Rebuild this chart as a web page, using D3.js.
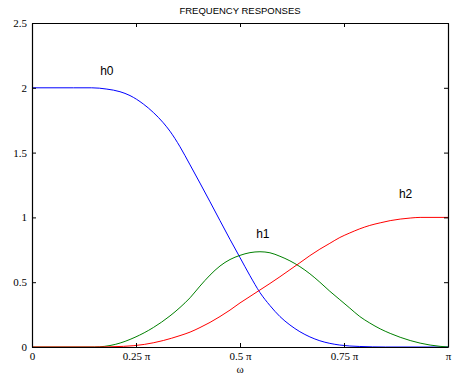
<!DOCTYPE html>
<html>
<head>
<meta charset="utf-8">
<script src="https://cdn.jsdelivr.net/npm/d3@7"></script>
<style>
  body { margin: 0; background: #fff; }
  svg { display: block; }
</style>
</head>
<body>
<svg id="chart" width="452" height="375"></svg>
<script>
// frequency in units of pi
var h0W = [0, 0.10, 0.1435, 0.18, 0.2115, 0.2356, 0.2676, 0.2916, 0.3156, 0.3317, 0.3558, 0.38, 0.4038, 0.428, 0.4519, 0.476, 0.5, 0.524, 0.548, 0.572, 0.596, 0.62, 0.644, 0.668, 0.692, 0.716, 0.74, 0.788, 0.85, 1];
var h0V = [2, 2, 2.0, 1.99, 1.97, 1.94, 1.875, 1.81, 1.73, 1.665, 1.545, 1.405, 1.265, 1.12, 0.975, 0.83, 0.69, 0.55, 0.42, 0.32, 0.235, 0.17, 0.118, 0.078, 0.048, 0.028, 0.015, 0.004, 0, 0];

var h1W = [0, 0.15, 0.2, 0.2476, 0.2916, 0.3317, 0.3558, 0.38, 0.4038, 0.428, 0.4519, 0.476, 0.5, 0.524, 0.548, 0.572, 0.596, 0.62, 0.644, 0.668, 0.692, 0.716, 0.74, 0.764, 0.788, 0.812, 0.837, 0.861, 0.885, 0.909, 0.933, 0.957, 0.981, 1];
var h1V = [0, 0, 0.02, 0.075, 0.15, 0.24, 0.305, 0.38, 0.47, 0.555, 0.625, 0.675, 0.707, 0.728, 0.735, 0.727, 0.70, 0.665, 0.62, 0.565, 0.50, 0.43, 0.365, 0.30, 0.235, 0.185, 0.14, 0.105, 0.075, 0.05, 0.03, 0.015, 0.005, 0];

var h2W = [0, 0.15, 0.22, 0.27, 0.3156, 0.3558, 0.38, 0.4038, 0.428, 0.4519, 0.476, 0.5, 0.524, 0.548, 0.572, 0.596, 0.62, 0.644, 0.668, 0.692, 0.716, 0.74, 0.764, 0.788, 0.812, 0.837, 0.861, 0.885, 0.909, 0.933, 1];
var h2V = [0, 0, 0.005, 0.02, 0.05, 0.088, 0.115, 0.15, 0.19, 0.235, 0.285, 0.34, 0.39, 0.44, 0.49, 0.542, 0.596, 0.65, 0.705, 0.755, 0.80, 0.845, 0.88, 0.912, 0.938, 0.958, 0.975, 0.987, 0.995, 1.0, 1.0];

var xTicks = [0, 0.25, 0.5, 0.75, 1];
var xTickLabels = ["0", "0.25 \u03c0", "0.5 \u03c0", "0.75 \u03c0", "\u03c0"];
var yTicks = [0, 0.5, 1, 1.5, 2, 2.5];

var curves = [
  {name: "h0", w: h0W, v: h0V, color: "#0000ff", lx: 0.18, ly: 2.1},
  {name: "h1", w: h1W, v: h1V, color: "#008000", lx: 0.555, ly: 0.84},
  {name: "h2", w: h2W, v: h2V, color: "#ff0000", lx: 0.898, ly: 1.15}
];

var svg = d3.select("#chart");
var margin = {top: 23, right: 4, bottom: 28, left: 32};
var width = +svg.attr("width") - margin.left - margin.right;
var height = +svg.attr("height") - margin.top - margin.bottom;

var x = d3.scaleLinear().domain([0, 1]).range([margin.left, margin.left + width]);
var y = d3.scaleLinear().domain([0, 2.5]).range([margin.top + height, margin.top]);

// title
svg.append("text")
  .attr("x", 240).attr("y", 14)
  .attr("text-anchor", "middle")
  .style("font-family", "Liberation Sans, Arial, sans-serif")
  .style("font-size", "9.5px")
  .text("FREQUENCY RESPONSES");

var line = d3.line()
  .x(function(d) { return x(d[0]); })
  .y(function(d) { return y(d[1]); })
  .curve(d3.curveMonotoneX);

curves.forEach(function(c) {
  var pts = c.w.map(function(w, i) { return [w, c.v[i]]; });
  svg.append("path")
    .datum(pts)
    .attr("fill", "none")
    .attr("stroke", c.color)
    .attr("stroke-width", 1)
    .attr("d", line);
  svg.append("text")
    .attr("x", x(c.lx)).attr("y", y(c.ly))
    .attr("text-anchor", "middle")
    .style("font-family", "Liberation Sans, Arial, sans-serif")
    .style("font-size", "12px")
    .text(c.name);
});

// frame with ticks pointing inward
var tickLen = 4;
var axBottom = d3.axisBottom(x).tickValues(xTicks).tickSizeInner(-tickLen).tickSizeOuter(0)
  .tickPadding(5).tickFormat(function(d, i) { return xTickLabels[i]; });
var axTop = d3.axisTop(x).tickValues(xTicks).tickSizeInner(-tickLen).tickSizeOuter(0).tickFormat("");
var axLeft = d3.axisLeft(y).tickValues(yTicks).tickSizeInner(-tickLen).tickSizeOuter(0)
  .tickPadding(5).tickFormat(d3.format("~g"));
var axRight = d3.axisRight(y).tickValues(yTicks).tickSizeInner(-tickLen).tickSizeOuter(0).tickFormat("");

svg.append("g").attr("transform", "translate(0," + (margin.top + height) + ")").call(axBottom);
svg.append("g").attr("transform", "translate(0," + margin.top + ")").call(axTop);
svg.append("g").attr("transform", "translate(" + margin.left + ",0)").call(axLeft);
svg.append("g").attr("transform", "translate(" + (margin.left + width) + ",0)").call(axRight);

svg.selectAll(".domain").attr("stroke", "#000").attr("stroke-width", 1.2);
svg.selectAll(".tick line").attr("stroke", "#000");
svg.selectAll(".tick text")
  .style("font-family", "Liberation Serif, Times New Roman, serif")
  .style("font-size", "11px")
  .attr("fill", "#000");

// x axis label
svg.append("text")
  .attr("x", x(0.5)).attr("y", 373)
  .attr("text-anchor", "middle")
  .style("font-family", "Liberation Serif, Times New Roman, serif")
  .style("font-size", "11px")
  .text("\u03c9");
</script>
</body>
</html>
